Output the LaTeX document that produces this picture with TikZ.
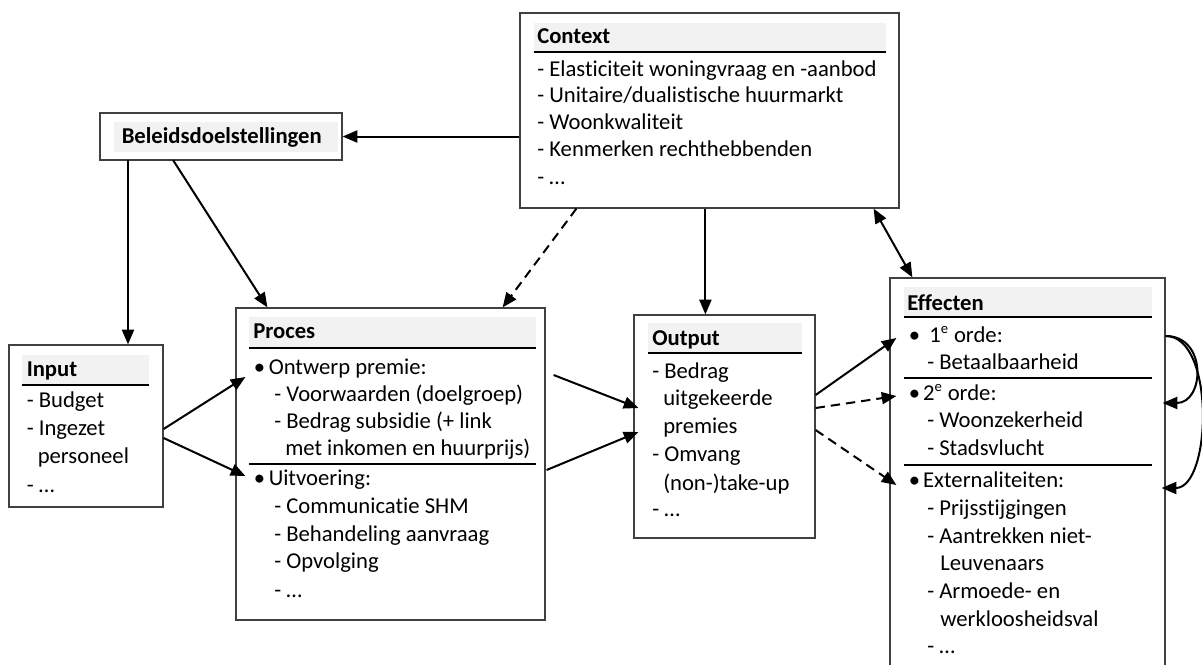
\documentclass[tikz,border=0pt]{standalone}
\usepackage{fontspec}
\setmainfont{Carlito}[Ligatures=NoCommon]
\usetikzlibrary{arrows.meta,fit,calc}
\begin{document}
\begin{tikzpicture}[x=0.75pt,y=-0.75pt,
  box/.style={draw=black!75, line width=0.9pt, inner sep=0pt},
  bar/.style={fill=black!5, draw=none, inner sep=0pt},
  rulel/.style={line width=1.5pt},
  txt/.style={anchor=base west, inner sep=0pt, font=\fontsize{17}{20}\selectfont},
  ttl/.style={anchor=base west, inner sep=0pt, font=\fontsize{17}{20}\selectfont\bfseries},
  arr/.style={line width=1.5pt, -{Triangle[length=11pt,width=9pt]}},
  darr/.style={arr, dash pattern=on 7pt off 4.5pt},
  barr/.style={line width=1.5pt, {Triangle[length=11pt,width=9pt]}-{Triangle[length=11pt,width=9pt]}},
]
\useasboundingbox (0,0) rectangle (1202,664);
\fill[white] (0,0) rectangle (1202,664);

% ---------- Context ----------
\node[box, fit={(520,13) (899,208)}] (ctx) {};
\node[bar, fit={(534,23) (886,52)}] (ctxbar) {};
\draw[rulel] (ctxbar.south west) -- (ctxbar.south east);
\node[ttl] (ctxt) at (537,43) {Context};
\node[txt] (c1) at (537,76) {- Elasticiteit woningvraag en -aanbod};
\node[txt] (c2) at (537,102.5) {- Unitaire/dualistische huurmarkt};
\node[txt] (c3) at (537,129.5) {- Woonkwaliteit};
\node[txt] (c4) at (537,156.5) {- Kenmerken rechthebbenden};
\node[txt] (c5) at (537,184) {- …};

% ---------- Beleidsdoelstellingen ----------
\node[box, fit={(100,113) (342,160)}] (bel) {};
\node[bar, fit={(114,122) (338,152)}] (belbar) {};
\node[ttl] (belt) at (121.5,143.5) {Beleidsdoelstellingen};

% ---------- Input ----------
\node[box, fit={(9,345) (163,507)}] (inp) {};
\node[bar, fit={(22,355) (149,385)}] (inpbar) {};
\draw[rulel] (inpbar.south west) -- (inpbar.south east);
\node[ttl] (inpt) at (26.5,376.5) {Input};
\node[txt] (i1) at (26.5,407) {- Budget};
\node[txt] (i2) at (26.5,435) {- Ingezet};
\node[txt] (i3) at (37.5,463) {personeel};
\node[txt] (i4) at (26.5,492) {- …};

% ---------- Proces ----------
\node[box, fit={(236,308) (545,620)}] (proc) {};
\node[bar, fit={(249,317) (536,348)}] (procbar) {};
\draw[rulel] (procbar.south west) -- (procbar.south east);
\node[ttl] (proct) at (253,338) {Proces};
\node[txt] (p1) at (253.5,374) {\makebox[11.25pt][l]{\textbullet}Ontwerp premie:};
\node[txt] (p2) at (274,401) {- Voorwaarden (doelgroep)};
\node[txt] (p3) at (274,428) {- Bedrag subsidie (+ link};
\node[txt] (p4) at (285,455) {met inkomen en huurprijs)};
\coordinate (ps1) at (249,464);
\draw[rulel] (ps1) -- (ps1 -| procbar.east);
\node[txt] (p5) at (253.5,485) {\makebox[11.25pt][l]{\textbullet}Uitvoering:};
\node[txt] (p6) at (274,513) {- Communicatie SHM};
\node[txt] (p7) at (274,541) {- Behandeling aanvraag};
\node[txt] (p8) at (274,568) {- Opvolging};
\node[txt] (p9) at (274,597) {- …};

% ---------- Output ----------
\node[box, fit={(634,315) (815,538)}] (out) {};
\node[bar, fit={(648,323) (802,353)}] (outbar) {};
\draw[rulel] (outbar.south west) -- (outbar.south east);
\node[ttl] (outt) at (652,345) {Output};
\node[txt] (o1) at (652,378) {- Bedrag};
\node[txt] (o2) at (663,405.5) {uitgekeerde};
\node[txt] (o3) at (663,433) {premies};
\node[txt] (o4) at (652,461.5) {- Omvang};
\node[txt] (o5) at (663,490) {(non-)take-up};
\node[txt] (o6) at (652,516) {- …};

% ---------- Effecten ----------
\node[box, fit={(890,278) (1165,668)}] (eff) {};
\node[bar, fit={(904,287) (1152,317)}] (effbar) {};
\draw[rulel] (effbar.south west) -- (effbar.south east);
\node[ttl] (efft) at (907,310) {Effecten};
\node[txt] (e1) at (908.5,342) {\makebox[15.5pt][l]{\textbullet}1\textsuperscript{\fontsize{11}{12}\selectfont e} orde:};
\node[txt] (e2) at (927,369) {- Betaalbaarheid};
\coordinate (es1) at (904,378);
\draw[rulel] (es1) -- (es1 -| effbar.east);
\node[txt] (e3) at (908.5,400) {\makebox[10.8pt][l]{\textbullet}2\textsuperscript{\fontsize{11}{12}\selectfont e} orde:};
\node[txt] (e4) at (927,427.5) {- Woonzekerheid};
\node[txt] (e5) at (927,455) {- Stadsvlucht};
\coordinate (es2) at (904,465);
\draw[rulel] (es2) -- (es2 -| effbar.east);
\node[txt] (e6) at (908.5,487.5) {\makebox[10.8pt][l]{\textbullet}Externaliteiten:};
\node[txt] (e7) at (927,515) {- Prijsstijgingen};
\node[txt] (e8) at (927,543) {- Aantrekken niet-};
\node[txt] (e9) at (940,570) {Leuvenaars};
\node[txt] (e10) at (927,598) {- Armoede- en};
\node[txt] (e11) at (940,626) {werkloosheidsval};
\node[txt] (e12) at (927,653) {- …};

% ---------- Connectors ----------
\draw[arr] (ctx.west |- bel.east) -- (bel.east);
\coordinate (b1) at (128,160);
\draw[arr] (b1) -- (b1 |- inp.north);
\coordinate (b2) at (173,160);
\draw[arr] (b2) -- ($(proc.north west)+(32,0)$);
\draw[darr] ($(ctx.south west)+(57,0)$) -- ($(proc.north east)+(-43,0)$);
\coordinate (cx) at ($(ctx.south west)+(186,0)$);
\draw[arr] (cx) -- (cx |- out.north);
\draw[barr] ($(ctx.south east)+(-26,0)$) -- ($(eff.north west)+(23,0)$);

\draw[arr] ($(inp.east)+(0,3)$) -- ($(proc.west)+(10,-87)$);
\draw[arr] ($(inp.east)+(0,12)$) -- ($(proc.west)+(10,12)$);

\draw[arr] ($(proc.east)+(8,-89)$) -- ($(out.west)+(5,-18.5)$);
\draw[arr] ($(proc.east)+(1,6)$) -- ($(out.west)+(5,5.5)$);

\draw[arr] ($(out.east)+(0,-31.5)$) -- ($(eff.west)+(7,-135)$);
\draw[darr] ($(out.east)+(0,-18.5)$) -- ($(eff.west)+(7,-77)$);
\draw[darr] ($(out.east)+(0,3.5)$) -- ($(eff.west)+(7,12)$);

\coordinate (r1) at ($(eff.east)+(0,-137)$);
\draw[arr] (r1) .. controls +(42,0) and +(42,0) .. ($(eff.east)+(-3,-70)$);
\draw[arr] (r1) .. controls +(50,0) and +(50,0) .. ($(eff.east)+(-4,15)$);
\end{tikzpicture}
\end{document}
